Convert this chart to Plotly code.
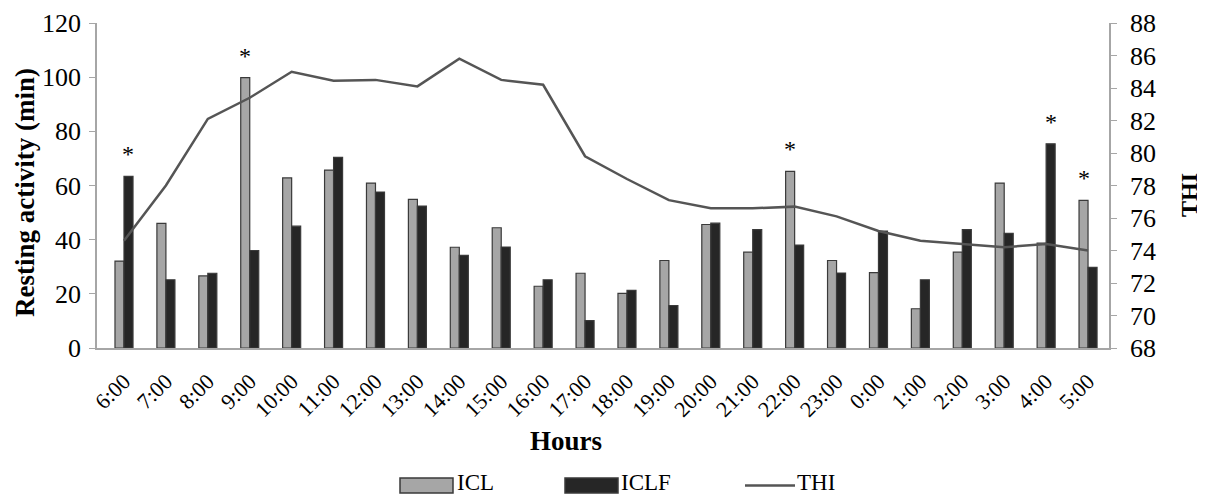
import plotly.graph_objects as go

hours = ["6:00", "7:00", "8:00", "9:00", "10:00", "11:00", "12:00", "13:00", "14:00",
         "15:00", "16:00", "17:00", "18:00", "19:00", "20:00", "21:00", "22:00", "23:00",
         "0:00", "1:00", "2:00", "3:00", "4:00", "5:00"]
icl = [32.1, 46.0, 26.6, 99.8, 62.8, 65.7, 60.9, 54.9, 37.2, 44.4, 22.8, 27.6,
       20.2, 32.3, 45.6, 35.4, 65.2, 32.3, 27.8, 14.5, 35.4, 60.9, 38.7, 54.5]
iclf = [63.4, 25.2, 27.6, 36.0, 45.0, 70.4, 57.6, 52.4, 34.2, 37.3, 25.2, 10.1,
        21.3, 15.7, 46.1, 43.7, 38.0, 27.7, 43.2, 25.2, 43.7, 42.3, 75.4, 29.8]
thi = [74.6, 78.0, 82.1, 83.4, 85.0, 84.45, 84.5, 84.1, 85.8, 84.5, 84.2, 79.8,
       78.4, 77.1, 76.6, 76.6, 76.7, 76.1, 75.2, 74.6, 74.4, 74.2, 74.4, 74.0]
# significance markers (*): which series bar is flagged at each hour
sig_icl = ["9:00", "22:00", "5:00"]
sig_iclf = ["6:00", "4:00"]

FONT = "Liberation Serif"
GRAY = "#a6a6a6"
DARK = "#262626"
EDGE = "#3a3a3a"
AXIS = "#a6a6a6"

# page body has an 8px margin: design in window pixels, shift by OFF
OFF = 8
W, H = 1205 - OFF, 497 - OFF
L, R, T, B = 97, 1109, 23, 348  # window pixel coordinates of the plot area

fig = go.Figure()
fig.add_trace(go.Bar(x=hours, y=icl, name="ICL", marker=dict(color=GRAY, line=dict(color=EDGE, width=1.2))))
fig.add_trace(go.Bar(x=hours, y=iclf, name="ICLF", marker=dict(color=DARK, line=dict(color=EDGE, width=1.2))))
fig.add_trace(go.Scatter(x=hours, y=thi, name="THI", mode="lines", yaxis="y2",
                         line=dict(color="#555555", width=2.5)))

annotations = []
for h in sig_icl:
    i = hours.index(h)
    annotations.append(dict(x=h, y=icl[i], xref="x", yref="y", text="*", showarrow=False,
                            xanchor="center", yanchor="middle",
                            xshift=-4.5, yshift=22, font=dict(family=FONT, size=24, color="#000")))
for h in sig_iclf:
    i = hours.index(h)
    annotations.append(dict(x=h, y=iclf[i], xref="x", yref="y", text="*", showarrow=False,
                            xanchor="center", yanchor="middle",
                            xshift=4.5, yshift=22, font=dict(family=FONT, size=24, color="#000")))


def px(x):
    return (x - L) / (R - L)


def py(y):
    return (B - y) / (B - T)


def text_ann(x, y, text, size, angle=0, xanchor="center"):
    return dict(x=px(x), y=py(y), xref="paper", yref="paper", text=text, textangle=angle,
                xanchor=xanchor, yanchor="middle", showarrow=False, borderpad=0,
                font=dict(family=FONT, size=size, color="#000"))


# axis titles
annotations.append(text_ann(25, 193, "<b>Resting activity (min)</b>", 27, angle=-90))
annotations.append(text_ann(1189, 195, "<b>THI</b>", 24, angle=-90))
annotations.append(text_ann(566, 441, "<b>Hours</b>", 27))

# manual legend
shapes = []
leg_y0, leg_y1 = 478, 493
shapes.append(dict(type="rect", xref="paper", yref="paper", x0=px(400), x1=px(453), y0=py(leg_y1), y1=py(leg_y0),
                   fillcolor=GRAY, line=dict(color=EDGE, width=1.5)))
shapes.append(dict(type="rect", xref="paper", yref="paper", x0=px(565), x1=px(618), y0=py(leg_y1), y1=py(leg_y0),
                   fillcolor=DARK, line=dict(color=EDGE, width=1.5)))
shapes.append(dict(type="line", xref="paper", yref="paper", x0=px(745), x1=px(795), y0=py(485.5), y1=py(485.5),
                   line=dict(color="#555555", width=2.5)))
for name, x in [("ICL", 456), ("ICLF", 620), ("THI", 796)]:
    annotations.append(text_ann(x, 482, name, 23, xanchor="left"))

fig.update_layout(
    width=W, height=H,
    margin=dict(l=L - OFF, r=1205 - R, t=T - OFF, b=497 - B, autoexpand=False),
    paper_bgcolor="white", plot_bgcolor="white",
    barmode="group", bargap=0.57, bargroupgap=0,
    showlegend=False,
    font=dict(family=FONT, color="#000"),
    xaxis=dict(type="category", range=[-0.644, 23.5], tickangle=-45, showgrid=False,
               showline=True, linecolor=AXIS, linewidth=1.5, ticks="", ticklabelstandoff=10,
               tickfont=dict(family=FONT, size=22, color="#000")),
    yaxis=dict(range=[0, 120], dtick=20, showgrid=False, zeroline=False, showline=True,
               linecolor=AXIS, linewidth=1.5, ticks="outside", ticklen=6, tickcolor=AXIS,
               ticklabelstandoff=3,
               tickfont=dict(family=FONT, size=26, color="#000")),
    yaxis2=dict(range=[68, 88], dtick=2, overlaying="y", side="right", showgrid=False, zeroline=False,
                showline=True, linecolor=AXIS, linewidth=1.5, ticks="outside", ticklen=6, tickcolor=AXIS,
                ticklabelstandoff=8,
                tickfont=dict(family=FONT, size=26, color="#000")),
    annotations=annotations,
    shapes=shapes,
)

fig.write_html("out.html")
